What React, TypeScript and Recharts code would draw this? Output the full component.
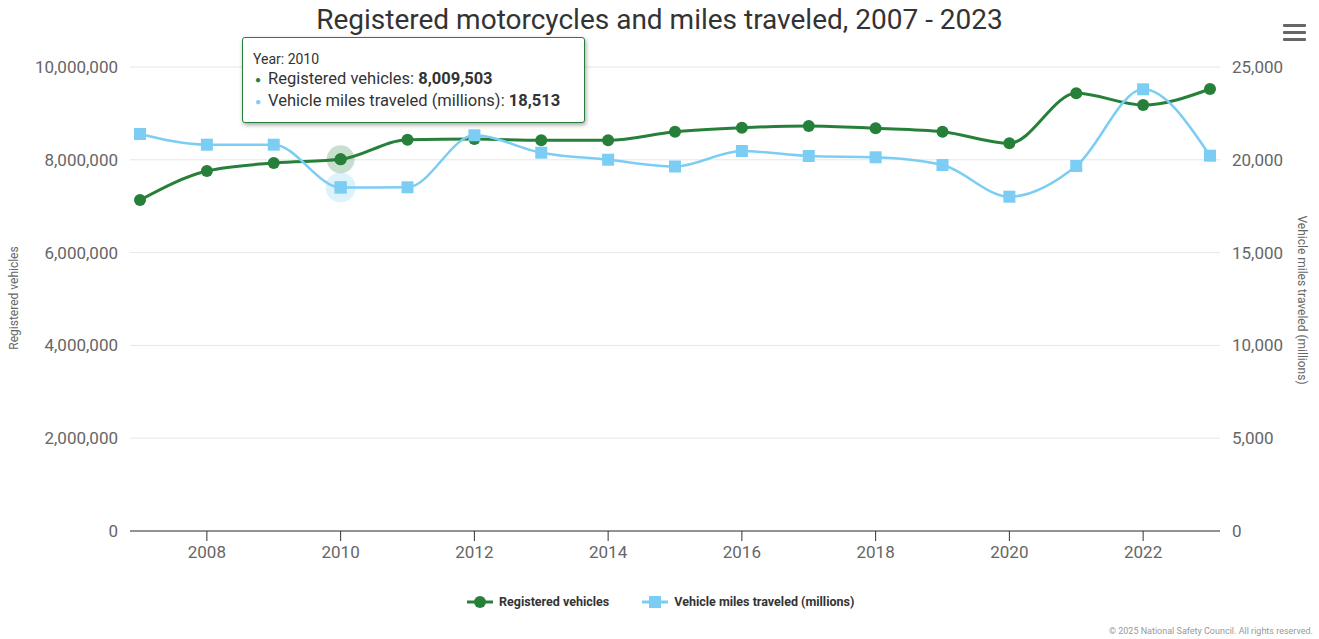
import React from "react";
import { LineChart, Line, XAxis, YAxis, CartesianGrid, Tooltip } from "recharts";

const years = [2007, 2008, 2009, 2010, 2011, 2012, 2013, 2014, 2015, 2016, 2017, 2018, 2019, 2020, 2021, 2022, 2023];
const registeredVehicles = [
  7134000, 7759000, 7931000, 8009503, 8433000, 8448000, 8420000, 8420000, 8606000,
  8692000, 8728000, 8679000, 8606000, 8355000, 9433000, 9181000, 9526000,
];
const milesTraveled = [
  21390, 20814, 20814, 18513, 18518, 21320, 20383, 20005, 19639,
  20474, 20205, 20135, 19720, 18012, 19666, 23799, 20221,
];
const leftTicks = [0, 2000000, 4000000, 6000000, 8000000, 10000000];
const rightTicks = [0, 5000, 10000, 15000, 20000, 25000];
const xTicks = [2008, 2010, 2012, 2014, 2016, 2018, 2020, 2022];

const GREEN = "#27803a";
const BLUE = "#7ccdf4";
const FONT = "Roboto, Arial, sans-serif";

const data = years.map((year, i) => ({
  year,
  registered: registeredVehicles[i],
  miles: milesTraveled[i],
}));

const fmt = (v: number) => v.toLocaleString("en-US");

function SquareDot(props: any) {
  const { cx, cy, index } = props;
  if (cx == null || cy == null) return null;
  return <rect key={`sq-${index}`} x={cx - 6} y={cy - 6} width={12} height={12} fill={BLUE} />;
}

function GreenActive(props: any) {
  const { cx, cy } = props;
  return (
    <g>
      <circle cx={cx} cy={cy} r={14} fill={GREEN} fillOpacity={0.25} />
      <circle cx={cx} cy={cy} r={6} fill={GREEN} />
    </g>
  );
}

function BlueActive(props: any) {
  const { cx, cy } = props;
  return (
    <g>
      <circle cx={cx} cy={cy} r={15} fill={BLUE} fillOpacity={0.25} />
      <rect x={cx - 6} y={cy - 6} width={12} height={12} fill={BLUE} />
    </g>
  );
}

function TipBox({ payload, label }: any) {
  if (!payload || !payload.length) return null;
  return (
    <div
      style={{
        background: "#fff",
        border: `1px solid ${GREEN}`,
        borderRadius: 3,
        boxShadow: "1px 2px 4px rgba(0,0,0,0.35)",
        width: 343,
        height: 86,
        padding: "12px 0 0 10px",
        fontFamily: FONT,
        color: "#333",
        boxSizing: "border-box",
      }}
    >
      <div style={{ fontSize: 14, lineHeight: "18px" }}>Year: {label}</div>
      {payload.map((p: any) => (
        <div key={p.dataKey} style={{ fontSize: 16.5, lineHeight: "21px", whiteSpace: "nowrap" }}>
          <span style={{ color: p.color, fontSize: 10, display: "inline-block", width: 10, textAlign: "center", marginRight: 5, verticalAlign: "middle" }}>●</span>
          {p.name}: <b>{fmt(p.value)}</b>
        </div>
      ))}
    </div>
  );
}

function LegendItem({ color, label, square }: { color: string; label: string; square?: boolean }) {
  return (
    <div style={{ display: "flex", alignItems: "center", marginRight: 33 }}>
      <svg width={26} height={14} style={{ marginRight: 6 }}>
        <line x1={0} y1={7} x2={26} y2={7} stroke={color} strokeWidth={3} />
        {square ? (
          <rect x={7} y={1} width={12} height={12} fill={color} />
        ) : (
          <circle cx={13} cy={7} r={6} fill={color} />
        )}
      </svg>
      <span style={{ fontSize: 12.5, fontWeight: "bold", color: "#333" }}>{label}</span>
    </div>
  );
}

export default function App() {
  return (
    <div style={{ position: "absolute", left: 0, top: 0, width: 1319, height: 639, background: "#fff", fontFamily: FONT }}>
      <div
        style={{
          position: "absolute",
          top: 3,
          left: 0,
          width: 1319,
          textAlign: "center",
          fontSize: 28,
          color: "#333",
        }}
      >
        Registered motorcycles and miles traveled, 2007 - 2023
      </div>

      {/* menu icon */}
      <div style={{ position: "absolute", left: 1283, top: 24, width: 23 }}>
        {[0, 1, 2].map((i) => (
          <div key={i} style={{ height: 3, background: "#666", marginBottom: 4, borderRadius: 1 }} />
        ))}
      </div>

      <LineChart
        width={1319}
        height={571}
        data={data}
        margin={{ top: 67, right: 0, bottom: 0, left: 0 }}
      >
        <CartesianGrid yAxisId="left" vertical={false} stroke="#e6e6e6" />
        <XAxis
          dataKey="year"
          type="number"
          domain={[2007, 2023]}
          ticks={xTicks}
          padding={{ left: 10, right: 10 }}
          height={40}
          stroke="#333"
          tickSize={10}
          tickMargin={5}
          tick={{ fill: "#666", fontSize: 17, fontFamily: FONT }}
        />
        <YAxis
          yAxisId="left"
          width={130}
          domain={[0, 10000000]}
          ticks={leftTicks}
          axisLine={false}
          tickLine={false}
          tickSize={0}
          tickMargin={12}
          tickFormatter={fmt}
          tick={{ fill: "#666", fontSize: 17, fontFamily: FONT }}
        />
        <YAxis
          yAxisId="right"
          orientation="right"
          width={99}
          domain={[0, 25000]}
          ticks={rightTicks}
          axisLine={false}
          tickLine={false}
          tickSize={0}
          tickMargin={12}
          tickFormatter={fmt}
          tick={{ fill: "#666", fontSize: 17, fontFamily: FONT, textAnchor: "start" }}
        />
        <Tooltip
          defaultIndex={3}
          cursor={false}
          position={{ x: 242, y: 37 }}
          allowEscapeViewBox={{ x: true, y: true }}
          wrapperStyle={{ outline: "none" }}
          content={<TipBox />}
          isAnimationActive={false}
        />
        <Line
          yAxisId="left"
          type="monotone"
          dataKey="registered"
          name="Registered vehicles"
          stroke={GREEN}
          strokeWidth={3}
          dot={{ r: 6, fill: GREEN, stroke: "none" }}
          activeDot={GreenActive}
          isAnimationActive={false}
        />
        <Line
          yAxisId="right"
          type="monotone"
          dataKey="miles"
          name="Vehicle miles traveled (millions)"
          stroke={BLUE}
          strokeWidth={2.5}
          dot={SquareDot}
          activeDot={BlueActive}
          isAnimationActive={false}
        />
      </LineChart>

      <div
        style={{
          position: "absolute",
          left: 14,
          top: 298,
          transform: "translate(-50%, -50%) rotate(-90deg)",
          fontSize: 12,
          color: "#666",
          whiteSpace: "nowrap",
        }}
      >
        Registered vehicles
      </div>
      <div
        style={{
          position: "absolute",
          left: 1302,
          top: 300,
          transform: "translate(-50%, -50%) rotate(90deg)",
          fontSize: 12,
          color: "#666",
          whiteSpace: "nowrap",
        }}
      >
        Vehicle miles traveled (millions)
      </div>

      <div style={{ position: "absolute", top: 594, left: 467, display: "flex" }}>
        <LegendItem color={GREEN} label="Registered vehicles" />
        <LegendItem color={BLUE} label="Vehicle miles traveled (millions)" square />
      </div>

      <div style={{ position: "absolute", right: 6, top: 626, fontSize: 9, color: "#999" }}>
        © 2025 National Safety Council. All rights reserved.
      </div>
    </div>
  );
}
